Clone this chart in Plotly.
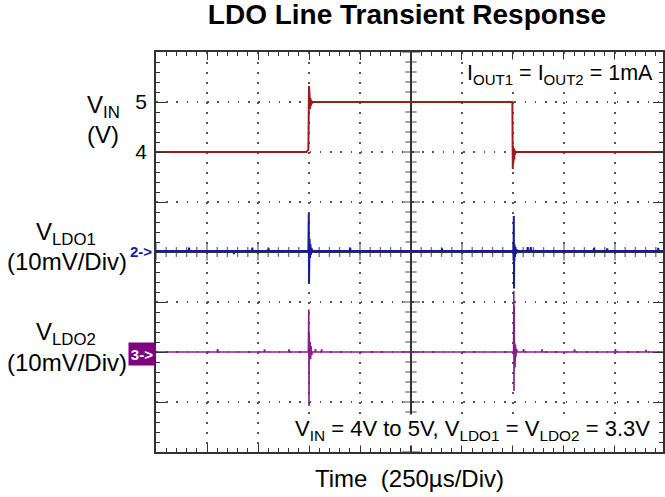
import numpy as np
import plotly.graph_objects as go

# ---------------- data (read from the scope shot) ----------------
# time in microseconds relative to screen centre, 250 us/div
vin_t = [-1250, -512, -503, -500, -499, -497, -495, -493, -491, -489, -487, -484,
         497, 499, 500, 502, 504, 506, 508, 510, 513, 1250]
vin_v = [4.0, 4.0, 4.05, 5.32, 4.82, 5.12, 4.86, 5.08, 4.92, 5.04, 4.97, 5.0,
         5.0, 3.66, 4.12, 3.78, 4.08, 3.85, 4.05, 3.95, 4.0, 4.0]

# V_LDO1 deviation in mV (10 mV/div)
ldo1_t = [-1250, -1090, -1088, -1086, -870, -868, -866, -780, -778, -776, -700, -698, -696,
          -503, -501, -500, -499, -498, -497, -495, -493, -491, -488, -484,
          -300, -298, -296, 150, 152, 154,
          503, 504, 505, 506, 507, 508, 510, 512, 514, 517, 521,
          570, 572, 574, 585, 587, 589, 895, 897, 899, 960, 962, 964, 1210, 1212, 1214, 1250]
ldo1_v = [0.2, 0.2, 0.9, 0.2, 0.2, -0.4, 0.2, 0.2, 0.9, 0.2, 0.2, 0.7, 0.2,
          0.2, 7.7, -6.3, 6.0, -2.0, 2.6, -1.2, 1.6, -0.6, 0.8, 0.2,
          0.2, 0.8, 0.2, 0.2, 0.7, 0.2,
          0.2, 7.2, -7.3, 1.6, -1.8, 1.4, -1.0, 1.0, -0.4, 0.5, 0.2,
          0.2, 1.0, 0.2, 0.2, 1.0, 0.2, 0.2, 0.8, 0.2, 0.2, 0.7, 0.2, 0.2, 0.8, 0.2, 0.2]

# V_LDO2 deviation in mV (10 mV/div)
ldo2_t = [-1250, -950, -948, -946, -720, -718, -716, -600, -598, -596,
          -503, -501, -500, -499, -498, -497, -496, -494, -492, -490, -487, -483,
          -470, -468, -466, -440, -438, -436,
          503, 504, 505, 506, 507, 508, 510, 512, 514, 517, 521,
          550, 552, 554, 640, 642, 644, 800, 802, 804, 1000, 1002, 1004, 1150, 1152, 1154, 1250]
ldo2_v = [0, 0, 0.6, 0, 0, 0.5, 0, 0, 0.5, 0,
          0, 8.5, -10.8, 4.0, -2.8, 3.0, -1.5, 2.0, -1.4, 1.2, -0.6, 0,
          0, 0.6, 0, 0, 0.5, 0,
          0, 12.2, -7.8, 9.2, -2.8, 1.9, -3.1, 1.5, -1.0, 0.6, 0,
          0, 0.6, 0, 0, 0.5, 0, 0, 0.5, 0, 0, 0.6, 0, 0, 0.4, 0, 0]

# scope trigger / position markers above the graticule
trig_t = [-630, -259, 615]
trig_colors = ["#4a3a5a", "#8c1c8c", "#5a1a5a"]

vin_ticks = [4, 5]
assert len(vin_t) == len(vin_v) and len(ldo1_t) == len(ldo1_v) and len(ldo2_t) == len(ldo2_v)

# ---------------- styling ----------------
FONT = "Liberation Sans, Arial, sans-serif"
W, H = 665, 497
ML, MT = 156, 52
DIV_PX = 51.2
PW, PH = W - ML, 400
MR, MB = 0, H - MT - PH
XMAX = -1250 + PW / DIV_PX * 250


def px_x(px):
    return (px - ML) / PW


def px_y(py):
    return (MT + PH - py) / PH


C_VIN = "#9a1c1c"
C_L1 = "#1a1a9e"
C_L2 = "#8c1c8c"
C_AX = "#333333"

fig = go.Figure()

# crosshair tick marks (centre graticule)
cx = np.arange(-1250, 1251, 50)
cy = np.arange(-40, 41, 2)
fig.add_trace(go.Scatter(x=cx, y=np.zeros_like(cx), mode="markers", hoverinfo="skip",
                         marker=dict(symbol="line-ns", size=[12 if v % 250 == 0 else 7 for v in cx],
                                     line=dict(color=C_AX, width=1.3)), showlegend=False))
fig.add_trace(go.Scatter(x=np.zeros_like(cy), y=cy, mode="markers", hoverinfo="skip",
                         marker=dict(symbol="line-ew", size=[13 if v % 10 == 0 else 8 for v in cy],
                                     line=dict(color=C_AX, width=1.3)), showlegend=False))

fig.add_trace(go.Scatter(x=vin_t, y=vin_v, mode="lines", yaxis="y2",
                         line=dict(color=C_VIN, width=2), showlegend=False))
fig.add_trace(go.Scatter(x=ldo1_t, y=ldo1_v, mode="lines", yaxis="y",
                         line=dict(color=C_L1, width=2), showlegend=False))
fig.add_trace(go.Scatter(x=ldo2_t, y=ldo2_v, mode="lines", yaxis="y3",
                         line=dict(color=C_L2, width=1.6), showlegend=False))
fig.add_trace(go.Scatter(x=trig_t, y=[41.4] * len(trig_t), mode="markers", cliponaxis=False,
                         hoverinfo="skip", showlegend=False,
                         marker=dict(symbol="square", size=3, color=trig_colors)))

fig.update_layout(
    width=W, height=H,
    margin=dict(l=ML, r=MR, t=MT, b=MB, pad=0),
    paper_bgcolor="white", plot_bgcolor="white",
    font=dict(family=FONT, color="black"),
    title=dict(text="LDO Line Transient Response", x=407 / W, xanchor="center",
               y=1 - 14 / H, yanchor="middle", yref="container",
               font=dict(size=28, family=FONT, weight="bold", color="black")),
    xaxis=dict(range=[-1250, XMAX], tick0=0, dtick=250, showticklabels=False,
               ticks="inside", ticklen=8, tickwidth=1.3, tickcolor=C_AX,
               minor=dict(dtick=50, tick0=0, ticks="inside", ticklen=4, tickwidth=1.2,
                          tickcolor=C_AX, showgrid=False),
               showgrid=True, gridcolor="#555555", gridwidth=1.5, griddash="1.5px,8.5px",
               zeroline=True, zerolinecolor=C_AX, zerolinewidth=1.5,
               showline=True, linecolor=C_AX, linewidth=1.5, mirror="ticks",
               title=dict(text="Time\u00a0 (250µs/Div)", font=dict(size=24), standoff=17)),
    yaxis=dict(range=[-40, 40], tick0=0, dtick=10, showticklabels=False,
               ticks="inside", ticklen=10, tickwidth=1.3, tickcolor=C_AX,
               minor=dict(dtick=2, tick0=0, ticks="inside", ticklen=4, tickwidth=1.2,
                          tickcolor=C_AX, showgrid=False),
               showgrid=True, gridcolor="#555555", gridwidth=1.5, griddash="1.5px,8.74px",
               zeroline=True, zerolinecolor=C_AX, zerolinewidth=1.5,
               showline=True, linecolor=C_AX, linewidth=1.5, mirror="ticks"),
    yaxis2=dict(range=[-2, 6], overlaying="y", side="left", anchor="x",
                tickmode="array", tickvals=vin_ticks, ticktext=[str(v) for v in vin_ticks],
                ticks="", showgrid=False, zeroline=False, showline=False,
                tickfont=dict(size=21), ticklabelstandoff=8),
    yaxis3=dict(range=[-20, 60], overlaying="y", visible=False),
)

ann = []


def label(text, cxp, cyp, size=24, **kw):
    ann.append(dict(text=text, x=px_x(cxp), y=px_y(cyp), xref="paper", yref="paper",
                    xanchor="center", yanchor="middle", showarrow=False,
                    font=dict(size=size, family=FONT, color=kw.pop("color", "black")), **kw))


label("V<sub>IN</sub>", 103, 107)
label("(V)", 103, 134)
label("V<sub>LDO1</sub>", 66, 234)
label("(10mV/Div)", 67, 261)
label("V<sub>LDO2</sub>", 66, 333)
label("(10mV/Div)", 67, 362)
label("I<sub>OUT1</sub> = I<sub>OUT2</sub> = 1mA", 562, 74, size=21.5, bgcolor="white")
label("V<sub>IN</sub> = 4V to 5V, V<sub>LDO1</sub> = V<sub>LDO2</sub> = 3.3V", 474, 430, size=22,
      bgcolor="white")
label("<b>2-></b>", 141, 251, size=15, color=C_L1)
label("<b>3-></b>", 142, 354, size=15, color="white", bgcolor="#800080", borderpad=2,
      width=22, height=18)
fig.update_layout(annotations=ann)

fig.write_html("out.html", config={"displayModeBar": False},
               post_script="document.body.style.margin='0px';")
